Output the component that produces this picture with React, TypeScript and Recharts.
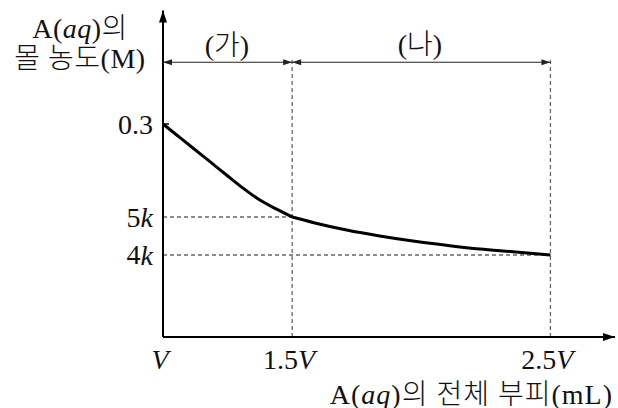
import { LineChart, Line, XAxis, YAxis, ReferenceLine, ReferenceDot } from "recharts";

// volume in units of V, concentration in drawing units
const segA = [
  { x: 1, y: 0.3 },
  { x: 1.053, y: 0.2845 },
  { x: 1.117, y: 0.2658 },
  { x: 1.182, y: 0.2469 },
  { x: 1.246, y: 0.2282 },
  { x: 1.311, y: 0.2094 },
  { x: 1.375, y: 0.193 },
  { x: 1.44, y: 0.18 },
  { x: 1.5, y: 0.169 },
];
const segB = [
  { x: 1.5, y: 0.169 },
  { x: 1.584, y: 0.161 },
  { x: 1.711, y: 0.1507 },
  { x: 1.839, y: 0.1423 },
  { x: 1.968, y: 0.1352 },
  { x: 2.097, y: 0.1292 },
  { x: 2.226, y: 0.1239 },
  { x: 2.355, y: 0.1201 },
  { x: 2.5, y: 0.1155 },
];
const xTicks = [1, 1.5, 2.5];
const xTickLabels = ["", "1.5", "2.5"];
const yTicks = [0.3, 0.169, 0.1155];
const yTickLabels = [["0.3", ""], ["5", "k"], ["4", "k"]];
const rangeY = 0.387;
const guideTop = 0.394;

const SERIF = '"Liberation Serif", "DejaVu Serif", "Noto Sans CJK KR", serif';
const FS = 28;

const XTick = (props: any) => {
  const { x, y, payload } = props;
  const i = xTicks.indexOf(payload.value);
  return (
    <text x={x - 3} y={y + 22} textAnchor="middle" dominantBaseline="central" fontFamily={SERIF} fontSize={FS} fill="#111">
      {xTickLabels[i]}
      <tspan fontStyle="italic">V</tspan>
    </text>
  );
};

const YTick = (props: any) => {
  const { x, y, payload } = props;
  const i = yTicks.indexOf(payload.value);
  const [num, sym] = yTickLabels[i];
  return (
    <g>
      <text x={x} y={y} textAnchor="end" dominantBaseline="central" fontFamily={SERIF} fontSize={FS} fill="#111">
        {num}
        {sym && <tspan fontStyle="italic">{sym}</tspan>}
      </text>
      {i === 0 && <line x1={x + 10} x2={x + 16} y1={y} y2={y} stroke="#000" strokeWidth={1.5} />}
    </g>
  );
};

const DoubleArrow = (props: any) => {
  const { x1, y1, x2, y2 } = props;
  return (
    <g>
      <line x1={x1} y1={y1} x2={x2} y2={y2} stroke="#222" strokeWidth={1.2} />
      <polygon points={`${x1},${y1} ${x1 + 9},${y1 - 3} ${x1 + 9},${y1 + 3}`} fill="#222" />
      <polygon points={`${x2},${y2} ${x2 - 9},${y2 - 3} ${x2 - 9},${y2 + 3}`} fill="#222" />
    </g>
  );
};

const ArrowRight = (props: any) => {
  const { cx, cy } = props;
  return <polygon points={`${cx},${cy} ${cx - 12},${cy - 4} ${cx - 12},${cy + 4}`} fill="#000" />;
};
const ArrowUp = (props: any) => {
  const { cx, cy } = props;
  return <polygon points={`${cx},${cy} ${cx - 4},${cy + 12} ${cx + 4},${cy + 12}`} fill="#000" />;
};

const dash = { stroke: "#666", strokeDasharray: "4 3", strokeWidth: 1.3 };

export default function App() {
  return (
    <div style={{ position: "absolute", left: 0, top: 0, width: 618, height: 408, background: "#fff" }}>
      <LineChart width={618} height={408} margin={{ top: 10.4, right: 3, bottom: 31, left: 103 }}>
        <XAxis
          type="number"
          dataKey="x"
          domain={[1, 2.75]}
          ticks={xTicks}
          tick={<XTick />}
          tickLine={false}
          tickSize={0}
          tickMargin={0}
          height={40}
          axisLine={{ stroke: "#000", strokeWidth: 2 }}
        />
        <YAxis
          type="number"
          dataKey="y"
          domain={[0, 0.46]}
          ticks={yTicks}
          tick={<YTick />}
          tickLine={false}
          tickSize={0}
          tickMargin={10}
          width={60}
          axisLine={{ stroke: "#000", strokeWidth: 2 }}
        />
        <ReferenceLine segment={[{ x: 1, y: yTicks[1] }, { x: 1.5, y: yTicks[1] }]} {...dash} />
        <ReferenceLine segment={[{ x: 1, y: yTicks[2] }, { x: 2.5, y: yTicks[2] }]} {...dash} />
        <ReferenceLine segment={[{ x: 1.5, y: 0 }, { x: 1.5, y: guideTop }]} {...dash} />
        <ReferenceLine segment={[{ x: 2.5, y: 0 }, { x: 2.5, y: guideTop }]} {...dash} />
        <ReferenceLine segment={[{ x: 1, y: rangeY }, { x: 1.5, y: rangeY }]} shape={<DoubleArrow />} />
        <ReferenceLine segment={[{ x: 1.5, y: rangeY }, { x: 2.5, y: rangeY }]} shape={<DoubleArrow />} />
        <ReferenceDot x={2.75} y={0} shape={<ArrowRight />} />
        <ReferenceDot x={1} y={0.46} shape={<ArrowUp />} />
        <Line data={segA} dataKey="y" type="monotone" stroke="#000" strokeWidth={3} dot={false} isAnimationActive={false} />
        <Line data={segB} dataKey="y" type="monotone" stroke="#000" strokeWidth={3} dot={false} isAnimationActive={false} />
      </LineChart>
      <svg width={618} height={408} style={{ position: "absolute", left: 0, top: 0, pointerEvents: "none" }}>
        <g fontFamily={SERIF} fontSize={FS} fontWeight={300} fill="#111" dominantBaseline="central">
          <text x={80} y={28} textAnchor="middle" letterSpacing={0.5}>
            A(<tspan fontStyle="italic">aq</tspan>)의
          </text>
          <text x={80} y={58} textAnchor="middle" letterSpacing={0.5}>몰 농도(M)</text>
          <text x={227} y={45} textAnchor="middle">(가)</text>
          <text x={420} y={44} textAnchor="middle">(나)</text>
          <text x={613} y={394} textAnchor="end" letterSpacing={1}>
            A(<tspan fontStyle="italic">aq</tspan>)의 전체 부피(mL)
          </text>
        </g>
      </svg>
    </div>
  );
}
